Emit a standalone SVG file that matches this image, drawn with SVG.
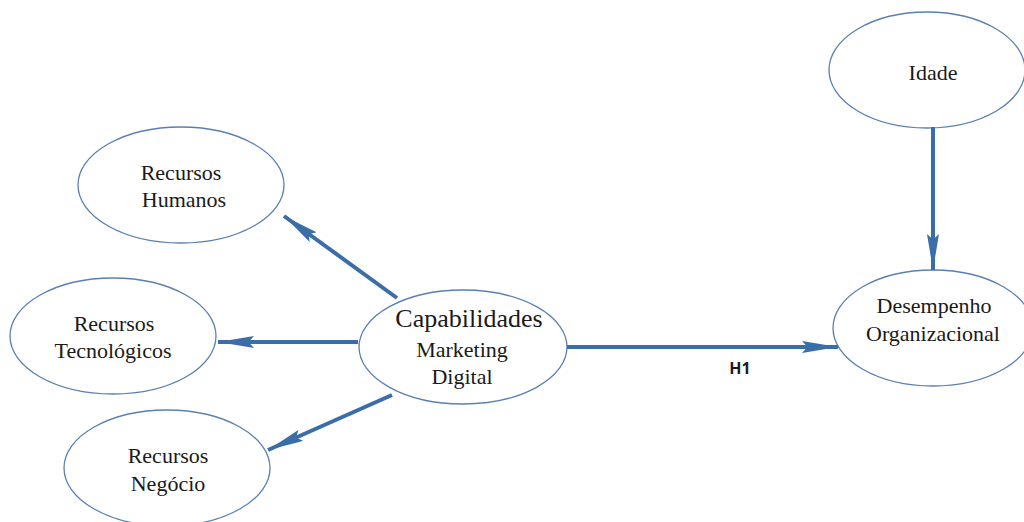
<svg xmlns="http://www.w3.org/2000/svg" width="1024" height="522" viewBox="0 0 1024 522">
<defs>
<style>
.n{fill:#fff;stroke:#5a7fb2;stroke-width:1.3}
.t{font-family:"Liberation Serif",serif;font-size:22px;fill:#1a1a1a;text-anchor:middle}
.c{stroke:#3b6ea8;stroke-width:4;fill:none;marker-end:url(#a)}
</style>
<marker id="a" viewBox="0 0 10 3" refX="10" refY="1.5" markerWidth="9" markerHeight="3" markerUnits="strokeWidth" orient="auto" preserveAspectRatio="none">
<path d="M0,0 L10,1.5 L0,3 L1.5,1.5 Z" fill="#3b6ea8"/>
</marker>
</defs>
<rect width="1024" height="522" fill="#fff"/>
<g id="rh"><ellipse class="n" cx="181" cy="185" rx="103" ry="58"/><text class="t" x="181" y="180">Recursos</text><text class="t" x="184" y="207">Humanos</text></g>
<g id="rt"><ellipse class="n" cx="113" cy="336" rx="103" ry="58"/><text class="t" x="114" y="331">Recursos</text><text class="t" x="113" y="358">Tecnológicos</text></g>
<g id="rn"><ellipse class="n" cx="167" cy="468" rx="103" ry="58"/><text class="t" x="168" y="463">Recursos</text><text class="t" x="168" y="491">Negócio</text></g>
<g id="cmd"><ellipse class="n" cx="463" cy="347" rx="104" ry="57"/><text class="t" x="469" y="327" style="font-size:26px">Capabilidades</text><text class="t" x="462" y="357">Marketing</text><text class="t" x="462" y="384">Digital</text></g>
<g id="idade"><ellipse class="n" cx="927" cy="70" rx="98" ry="58"/><text class="t" x="933" y="80">Idade</text></g>
<g id="desemp"><ellipse class="n" cx="933" cy="328" rx="100" ry="58"/><text class="t" x="934" y="313">Desempenho</text><text class="t" x="933" y="341">Organizacional</text></g>
<g id="connectors">
<line class="c" x1="397" y1="298" x2="284" y2="216"/>
<line class="c" x1="358" y1="342" x2="218" y2="342"/>
<line class="c" x1="392" y1="395" x2="268" y2="450"/>
<line class="c" x1="567" y1="347" x2="838" y2="347"/>
<line class="c" x1="933" y1="127" x2="933" y2="270"/>
<text x="740" y="374" style="font-family:'Open Sans','DejaVu Sans',sans-serif;font-size:16px;font-weight:bold;fill:#1a1a1a;text-anchor:middle">H1</text>
</g>
</svg>
